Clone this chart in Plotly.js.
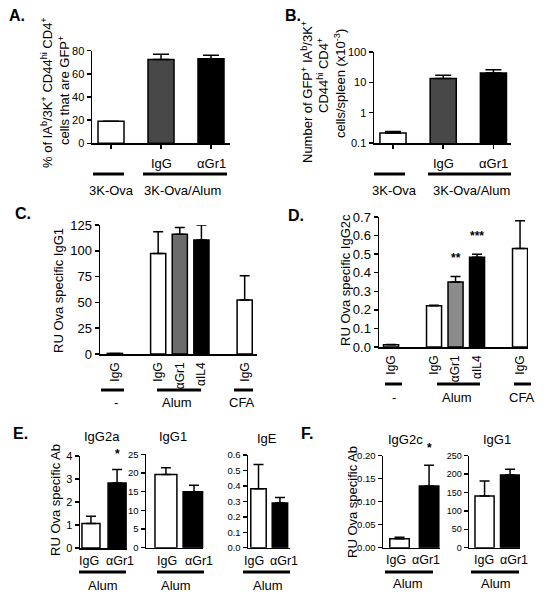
<!DOCTYPE html>
<html><head><meta charset="utf-8">
<script src="https://cdn.plot.ly/plotly-3.0.1.min.js"></script>
<style>html,body{margin:0;padding:0;background:#fff}#chart{width:544px;height:599px}</style>
</head><body><div id="chart"></div>
<script>
// ---------- data ----------
const aBarLabels = ['', 'IgG', 'αGr1'];
const aGroupLabels = ['3K-Ova', '3K-Ova/Alum'];
const aValues = [19, 72.5, 73];
const aErrors = [0, 4.5, 3];

const bBarLabels = ['', 'IgG', 'αGr1'];
const bGroupLabels = ['3K-Ova', '3K-Ova/Alum'];
const bValues = [0.215, 13.5, 20.5];
const bErrors = [0.025, 3.5, 5.5];
const bTicks = [0.1, 1, 10, 100];
const bTickText = ['0.1', '1', '10', '100'];

const cdGroupSizes = [1, 3, 1];
const cdGroupLabels = ['-', 'Alum', 'CFA'];
const cdBarLabels = ['IgG', 'IgG', 'αGr1', 'αIL4', 'IgG'];
const cValues = [0.6, 97.5, 116, 110.5, 52.3];
const cErrors = [0, 21, 6.5, 14.5, 23.5];
const cTicks = [0, 25, 50, 75, 100, 125];
const dValues = [0.012, 0.222, 0.35, 0.483, 0.53];
const dErrors = [0.002, 0.003, 0.03, 0.017, 0.15];
const dStars = ['', '', '**', '***', ''];
const dTicks = [0, 0.1, 0.2, 0.3, 0.4, 0.5, 0.6, 0.7];

const efBarLabels = ['IgG', 'αGr1'];
const efGroupLabel = 'Alum';
const eTitles = ['IgG2a', 'IgG1', 'IgE'];
const eIgG2aValues = [1.06, 2.83];
const eIgG2aErrors = [0.32, 0.58];
const eIgG2aTicks = [0, 1, 2, 3, 4];
const eIgG1Values = [19.6, 15.0];
const eIgG1Errors = [1.8, 1.7];
const eIgG1Ticks = [0, 5, 10, 15, 20, 25];
const eIgEValues = [0.382, 0.29];
const eIgEErrors = [0.157, 0.035];
const eIgETicks = [0, 0.1, 0.2, 0.3, 0.4, 0.5, 0.6];
const fTitles = ['IgG2c', 'IgG1'];
const fIgG2cValues = [0.0196, 0.134];
const fIgG2cErrors = [0.003, 0.045];
const fIgG2cTicks = [0, 0.05, 0.10, 0.15, 0.20];
const fIgG1Values = [140.5, 197.5];
const fIgG1Errors = [40.5, 15.5];
const fIgG1Ticks = [0, 50, 100, 150, 200, 250];

// ---------- layout helpers ----------
const W = 544, H = 599;
const FONT = 'Liberation Sans, Arial, Helvetica, sans-serif';
const fx = p => p / W, fy = p => 1 - p / H;
const traces = [];
const layout = {
  width: W, height: H, margin: {l: 0, r: 0, t: 0, b: 0},
  paper_bgcolor: 'white', plot_bgcolor: 'rgba(0,0,0,0)', showlegend: false,
  font: {family: FONT, color: 'black', size: 12}, annotations: [], shapes: []
};
let k = 0;
function panel(o) {
  k++;
  const s = k === 1 ? '' : String(k);
  const xr = 'x' + s, yr = 'y' + s;
  traces.push({
    type: 'bar', x: o.x, y: o.y, xaxis: xr, yaxis: yr, width: o.bw,
    marker: {color: o.colors, line: {color: 'black', width: 1.5}},
    error_y: {type: 'data', symmetric: false, array: o.err, arrayminus: o.err.map(() => 0),
              color: 'black', thickness: 1.5, width: o.cap},
    hoverinfo: 'none'
  });
  layout['xaxis' + s] = Object.assign({
    domain: [fx(o.xd[0]), fx(o.xd[1])], range: o.xrange, anchor: yr,
    showline: true, linecolor: 'black', linewidth: 1.5, showgrid: false, zeroline: false,
    ticks: '', showticklabels: false, fixedrange: true
  }, o.xextra || {});
  layout['yaxis' + s] = {
    domain: [fy(o.yd[1]), fy(o.yd[0])], range: o.yrange, type: o.log ? 'log' : 'linear', anchor: xr,
    showline: true, linecolor: 'black', linewidth: 1.5, showgrid: false, zeroline: false,
    ticks: 'outside', ticklen: 4, tickwidth: 1.5, tickcolor: 'black',
    tickvals: o.ytv, ticktext: o.ytt, tickfont: {size: o.yfs, family: FONT, color: 'black'},
    fixedrange: true
  };
  return {xr, yr};
}
function txt(text, x, y, size, extra) {
  layout.annotations.push(Object.assign({
    text, x: fx(x), y: fy(y), xref: 'paper', yref: 'paper', showarrow: false,
    xanchor: 'center', yanchor: 'middle', font: {size, family: FONT, color: 'black'}
  }, extra || {}));
}
function axTxt(text, xr, xv, y, size) {
  layout.annotations.push({
    text, x: xv, xref: xr, y: fy(y), yref: 'paper', showarrow: false,
    xanchor: 'center', yanchor: 'middle', font: {size, family: FONT, color: 'black'}
  });
}
function uline(x0, x1, y) {
  layout.shapes.push({type: 'line', xref: 'paper', yref: 'paper', x0: fx(x0), x1: fx(x1),
    y0: fy(y), y1: fy(y), line: {color: 'black', width: 3}});
}
function vtitle(text, x, y, size) { txt(text, x, y, size, {textangle: -90}); }
const idx = arr => arr.map((_, i) => i);
function groupPositions(sizes) {
  const pos = []; let p = 0;
  sizes.forEach(n => { for (let i = 0; i < n; i++) pos.push(p++); p++; });
  return pos;
}

// ---------- Panel A ----------
let ax = panel({x: idx(aValues), y: aValues, err: aErrors, colors: ['white', '#484848', 'black'], bw: 0.52, cap: 8,
  xd: [92, 230], xrange: [-0.38, 2.38], yd: [50.7, 143.3], yrange: [0, 80],
  ytv: [0, 20, 40, 60, 80], yfs: 11,
  xextra: {ticks: 'outside', ticklen: 4, tickwidth: 1.5, tickcolor: 'black', tickvals: idx(aValues)}});
aBarLabels.forEach((t, i) => { if (t) axTxt(t, ax.xr, i, 163, 13); });
uline(93, 124, 174); uline(143, 227, 174);
txt(aGroupLabels[0], 111, 190, 13); txt(aGroupLabels[1], 182, 190, 13);
vtitle('% of IA<sup>b</sup>/3K<sup>+</sup> CD44<sup>hi</sup> CD4<sup>+</sup>', 47, 93, 13);
vtitle('cells that are GFP<sup>+</sup>', 64, 91, 13);
txt('<b>A.</b>', 17, 15, 16);

// ---------- Panel B ----------
ax = panel({x: idx(bValues), y: bValues, err: bErrors, colors: ['white', '#484848', 'black'], bw: 0.52, cap: 8,
  xd: [374, 511], xrange: [-0.378, 2.35], yd: [52, 143], yrange: [-1, 2], log: true,
  ytv: bTicks, ytt: bTickText, yfs: 11,
  xextra: {ticks: 'outside', ticklen: 4, tickwidth: 1.5, tickcolor: 'black', tickvals: idx(bValues)}});
bBarLabels.forEach((t, i) => { if (t) axTxt(t, ax.xr, i, 163, 13); });
uline(374, 405, 174); uline(428, 511, 174);
txt(bGroupLabels[0], 394, 190, 13); txt(bGroupLabels[1], 471, 190, 13);
vtitle('Number of GFP<sup>+</sup> IA<sup>b</sup>/3K<sup>+</sup>', 307, 92, 13);
vtitle('CD44<sup>hi</sup> CD4<sup>+</sup>', 323, 76, 13);
vtitle('cells/spleen (x10<sup>-3</sup>)', 340, 84, 13);
txt('<b>B.</b>', 293, 15, 16);

// ---------- Panel C ----------
const cdPos = groupPositions(cdGroupSizes);
ax = panel({x: cdPos, y: cValues, err: cErrors, colors: ['white', 'white', '#6b6b6b', 'black', 'white'], bw: 0.7, cap: 5,
  xd: [100, 257], xrange: [-0.69, 6.57], yd: [225, 354], yrange: [0, 125],
  ytv: cTicks, yfs: 13,
  xextra: {showticklabels: true, tickvals: cdPos, ticktext: cdBarLabels, tickangle: -90,
           ticklabelstandoff: 2, tickfont: {size: 12, family: FONT, color: 'black'}}});
uline(101, 124, 390); uline(157, 201, 390); uline(234, 253, 390);
txt(cdGroupLabels[0], 116, 402, 13); txt(cdGroupLabels[1], 177, 402, 13); txt(cdGroupLabels[2], 242, 402, 13);
vtitle('RU Ova specific IgG1', 58, 291, 13);
txt('<b>C.</b>', 23, 213, 16);

// ---------- Panel D ----------
ax = panel({x: cdPos, y: dValues, err: dErrors, colors: ['white', 'white', '#8c8c8c', 'black', 'white'], bw: 0.7, cap: 5,
  xd: [379, 528], xrange: [-0.56, 6.37], yd: [217, 347], yrange: [0, 0.7],
  ytv: dTicks, ytt: dTicks.map(v => v.toFixed(1)), yfs: 13,
  xextra: {showticklabels: true, tickvals: cdPos, ticktext: cdBarLabels, tickangle: -90,
           ticklabelstandoff: 2, tickfont: {size: 12, family: FONT, color: 'black'}}});
dStars.forEach((s, i) => {
  if (s) layout.annotations.push({text: '<b>' + s + '</b>', x: cdPos[i], xref: ax.xr,
    y: dValues[i] + dErrors[i], yref: ax.yr, yshift: 18, showarrow: false,
    font: {size: 12, family: FONT, color: 'black'}});
});
uline(385, 402, 384); uline(437, 480, 384); uline(514, 531, 384);
txt(cdGroupLabels[0], 394, 397, 13); txt(cdGroupLabels[1], 457, 397, 13); txt(cdGroupLabels[2], 522, 397, 13);
vtitle('RU Ova specific IgG2c', 345, 280, 13);
txt('<b>D.</b>', 296, 215, 16);

// ---------- Panel E ----------
const e1 = panel({x: idx(eIgG2aValues), y: eIgG2aValues, err: eIgG2aErrors, colors: ['white', 'black'], bw: 0.69, cap: 5,
  xd: [80, 127], xrange: [-0.42, 1.38], yd: [456, 548], yrange: [0, 4], ytv: eIgG2aTicks, yfs: 11});
const e2 = panel({x: idx(eIgG1Values), y: eIgG1Values, err: eIgG1Errors, colors: ['white', 'black'], bw: 0.78, cap: 5,
  xd: [146, 203.3], xrange: [-0.71, 1.33], yd: [454.3, 547.7], yrange: [0, 25], ytv: eIgG1Ticks, yfs: 9.5});
const e3 = panel({x: idx(eIgEValues), y: eIgEValues, err: eIgEErrors, colors: ['white', 'black'], bw: 0.72, cap: 5,
  xd: [248, 290], xrange: [-0.49, 1.47], yd: [455, 547.7], yrange: [0, 0.6],
  ytv: eIgETicks, ytt: eIgETicks.map(v => v.toFixed(1)), yfs: 9.5});
// bar-label centres under each pair of bars (pixels)
[[89, 120], [167, 199], [254, 284]].forEach(p => { txt(efBarLabels[0], p[0], 561, 12.5); txt(efBarLabels[1], p[1], 561, 12.5); });
layout.annotations.push({text: '<b>*</b>', x: 1, xref: e1.xr, y: fy(463), yref: 'paper', showarrow: false,
  font: {size: 12, family: FONT, color: 'black'}});
uline(79, 126, 572); uline(157, 204, 572); uline(243, 290, 572);
txt(efGroupLabel, 103, 585, 13); txt(efGroupLabel, 176, 585, 13); txt(efGroupLabel, 268, 585, 13);
txt(eTitles[0], 102, 436, 13); txt(eTitles[1], 173, 436, 13); txt(eTitles[2], 267, 438, 13);
vtitle('RU Ova specific Ab', 55, 500, 13);
txt('<b>E.</b>', 20, 433, 16);

// ---------- Panel F ----------
const f1 = panel({x: idx(fIgG2cValues), y: fIgG2cValues, err: fIgG2cErrors, colors: ['white', 'black'], bw: 0.66, cap: 5,
  xd: [383, 440], xrange: [-0.56, 1.37], yd: [455.7, 547.7], yrange: [0, 0.2],
  ytv: fIgG2cTicks, ytt: fIgG2cTicks.map(v => v.toFixed(2)), yfs: 9.5});
const f2 = panel({x: idx(fIgG1Values), y: fIgG1Values, err: fIgG1Errors, colors: ['white', 'black'], bw: 0.75, cap: 5,
  xd: [469, 520], xrange: [-0.61, 1.39], yd: [455.7, 547.7], yrange: [0, 250], ytv: fIgG1Ticks, yfs: 9});
[[396, 426], [484, 514]].forEach(p => { txt(efBarLabels[0], p[0], 560, 12.5); txt(efBarLabels[1], p[1], 560, 12.5); });
layout.annotations.push({text: '<b>*</b>', x: 1, xref: f1.xr, y: fy(457), yref: 'paper', showarrow: false,
  font: {size: 12, family: FONT, color: 'black'}});
uline(385, 433, 572); uline(471, 519, 572);
txt(efGroupLabel, 408, 583, 13); txt(efGroupLabel, 496, 583, 13);
txt(fTitles[0], 405, 439, 13); txt(fTitles[1], 497, 440, 13);
vtitle('RU Ova specific Ab', 352, 502, 13);
txt('<b>F.</b>', 307, 433, 16);

Plotly.newPlot('chart', traces, layout, {staticPlot: true, displayModeBar: false});
</script></body></html>
